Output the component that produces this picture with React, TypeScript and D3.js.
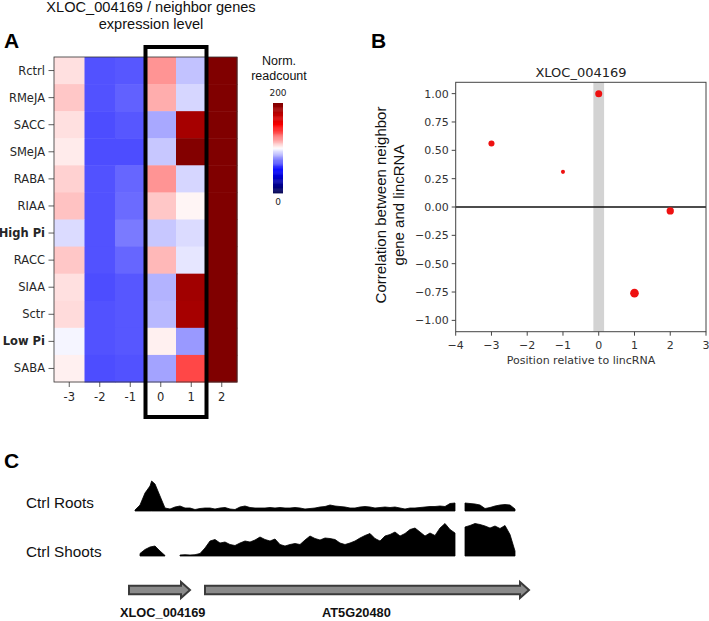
import React from "react";
import * as d3 from "d3";

// ---------- Panel A data ----------
const conditions = ["Rctrl", "RMeJA", "SACC", "SMeJA", "RABA", "RIAA", "High Pi", "RACC", "SIAA", "Sctr", "Low Pi", "SABA"];
const boldConditions = ["High Pi", "Low Pi"];
const positions = ["-3", "-2", "-1", "0", "1", "2"];
// normalized readcount per condition (rows) and neighbor position (columns)
const readcounts = [
  [106, 66, 67, 121, 88, 200],
  [111, 66, 69, 116, 92, 200],
  [106, 65, 67, 83, 185, 200],
  [104, 65, 65, 89, 199, 200],
  [109, 66, 70, 121, 92, 200],
  [112, 66, 71, 111, 102, 200],
  [93, 66, 74, 89, 93, 200],
  [111, 66, 70, 114, 95, 200],
  [106, 65, 67, 85, 187, 200],
  [107, 66, 67, 86, 185, 200],
  [98, 66, 67, 103, 80, 200],
  [103, 65, 66, 82, 136, 200],
];
const colorbarTicks = [0, 200];
const highlightPositions = ["0", "1"];

// ---------- Panel B data ----------
const neighborPos = [-3, -1, 0, 1, 2];
const correlation = [0.56, 0.31, 1.0, -0.76, -0.035];
const pointMagnitude = [9, 4, 12, 18, 13];
const xTicksB = [-4, -3, -2, -1, 0, 1, 2, 3];
const yTicksB = [1.0, 0.75, 0.5, 0.25, 0, -0.25, -0.5, -0.75, -1.0];

// ---------- Panel C data ----------
const rootsCoverage = [
  1, 6, 18, 25, 27, 15, 3, 2, 4, 5, 3, 3, 1.5, 2.5, 3, 3, 2, 3, 3.5, 2,
  1.5, 4, 5, 3.5, 3, 3, 3, 3.5, 3, 3.5, 3, 3, 3.5, 3, 2, 2.5, 3, 4, 4.5, 6,
  5, 4.5, 4, 3, 3, 4, 4.5, 4, 3, 3.5, 4, 3.5, 4, 3, 2, 3, 3, 3.5, 4, 4.5,
  4.5, 5, 4.5, 7.5, 8, 0, 8, 7.5, 7, 6, 2.5, 3.5, 5, 6, 6.5, 6, 2, 0,
];
const rootsPeak = 30;
const rootsPeakBin = 3.33;
const shootsCoverage = [
  0, 2.5, 6.5, 9, 10, 5, 0.5, 0, 0, 1, 1.3, 1, 1.3, 2.5, 8, 15, 16.5, 13, 14, 11.5,
  10.5, 13, 15, 14, 16, 19, 16.5, 15, 17, 11.5, 10, 11.5, 12.5, 11.5, 16, 20, 17.5, 16, 18, 17.5,
  16.5, 13, 11.5, 13, 15, 18, 20.5, 22.5, 17.5, 15, 20, 21.5, 24, 20, 22.5, 26.5, 28, 24, 20, 23,
  20.5, 28, 32.5, 26.5, 23, 0, 29, 30.5, 32.5, 31.5, 30, 28, 30, 27.5, 30.5, 21.5, 5, 0,
];
const tracks = [
  { label: "Ctrl Roots", values: rootsCoverage },
  { label: "Ctrl Shoots", values: shootsCoverage },
];
const genes = [
  { name: "XLOC_004169", start: -1.2, end: 11 },
  { name: "AT5G20480", start: 14, end: 78.8 },
];

const SANS = "'DejaVu Sans', sans-serif";
const ARIAL = "'Liberation Sans', Arial, sans-serif";

function seismic() {
  return d3
    .scaleLinear<string>()
    .domain([0, 50, 100, 150, 200])
    .range(["#00004c", "#0000ff", "#ffffff", "#ff0000", "#800000"])
    .clamp(true);
}

function PanelA() {
  const x = d3.scaleBand().domain(positions).range([54, 237]);
  const y = d3.scaleBand().domain(conditions).range([57, 382]);
  const color = seismic();
  const cbY = d3.scaleLinear().domain([0, 200]).range([193, 103]);
  const cbSteps = d3.range(0, 200, 2);
  const hx0 = x(highlightPositions[0])!;
  const hx1 = x(highlightPositions[highlightPositions.length - 1])! + x.bandwidth();
  return (
    <g>
      <text x={151} y={12} textAnchor="middle" fontFamily={ARIAL} fontSize={14.6} fill="#111">XLOC_004169 / neighbor genes</text>
      <text x={151} y={28.5} textAnchor="middle" fontFamily={ARIAL} fontSize={14.6} fill="#111">expression level</text>
      <text x={4} y={48} fontFamily={ARIAL} fontWeight="bold" fontSize={21} fill="#000">A</text>
      {conditions.map((c, i) =>
        positions.map((p, j) => (
          <rect key={c + p} x={x(p)!} y={y(c)!} width={x.bandwidth() + 0.5} height={y.bandwidth() + 0.5} fill={color(readcounts[i][j])} />
        ))
      )}
      <rect x={54} y={57} width={183} height={325} fill="none" stroke="#333" strokeWidth={0.8} />
      {conditions.map((c) => (
        <g key={c}>
          <line x1={48.5} x2={54} y1={y(c)! + y.bandwidth() / 2} y2={y(c)! + y.bandwidth() / 2} stroke="#333" strokeWidth={0.8} />
          <text x={45} y={y(c)! + y.bandwidth() / 2 + 4} textAnchor="end" fontFamily={SANS} fontSize={11.5} fontWeight={boldConditions.includes(c) ? "bold" : "normal"} fill="#262626">{c}</text>
        </g>
      ))}
      {positions.map((p) => (
        <g key={p}>
          <line x1={x(p)! + x.bandwidth() / 2} x2={x(p)! + x.bandwidth() / 2} y1={382} y2={387} stroke="#333" strokeWidth={0.8} />
          <text x={x(p)! + x.bandwidth() / 2} y={401} textAnchor="middle" fontFamily={SANS} fontSize={11.5} fill="#262626">{p}</text>
        </g>
      ))}
      <rect x={hx0} y={47} width={hx1 - hx0} height={370} fill="none" stroke="#000" strokeWidth={4} />
      {/* colorbar */}
      <text x={279} y={65} textAnchor="middle" fontFamily={ARIAL} fontSize={12.5} fill="#111">Norm.</text>
      <text x={279} y={80} textAnchor="middle" fontFamily={ARIAL} fontSize={12.5} fill="#111">readcount</text>
      {cbSteps.map((v) => (
        <rect key={v} x={273} y={cbY(v + 2)} width={10} height={cbY(v) - cbY(v + 2) + 0.4} fill={color(v + 1)} />
      ))}
      <text x={278} y={96} textAnchor="middle" fontFamily={SANS} fontSize={9} fill="#222">{colorbarTicks[1]}</text>
      <text x={278} y={205} textAnchor="middle" fontFamily={SANS} fontSize={9} fill="#222">{colorbarTicks[0]}</text>
    </g>
  );
}

function PanelB() {
  const x = d3.scaleLinear().domain([-4, 3]).range([455.7, 706]);
  const y = d3.scaleLinear().domain([-1.1, 1.1]).range([331.7, 82.3]);
  const r = d3.scaleSqrt().domain([0, 18]).range([0, 4.3]);
  const fmt = (v: number) => d3.format(".2f")(v).replace("-", "\u2212");
  const fmtX = (v: number) => String(v).replace("-", "\u2212");
  return (
    <g>
      <text x={371} y={48} fontFamily={ARIAL} fontWeight="bold" fontSize={21} fill="#000">B</text>
      <text x={581} y={77} textAnchor="middle" fontFamily={SANS} fontSize={13} fill="#222">XLOC_004169</text>
      <rect x={x(-0.15)} y={y(1.1)} width={x(0.15) - x(-0.15)} height={y(-1.1) - y(1.1)} fill="#d3d3d3" />
      <line x1={x(-4)} x2={x(3)} y1={y(0)} y2={y(0)} stroke="#111" strokeWidth={1.5} />
      {neighborPos.map((p, i) => (
        <circle key={p} cx={x(p)} cy={y(correlation[i])} r={r(pointMagnitude[i])} fill="#ee1111" />
      ))}
      <rect x={x(-4)} y={y(1.1)} width={x(3) - x(-4)} height={y(-1.1) - y(1.1)} fill="none" stroke="#444" strokeWidth={1} />
      {yTicksB.map((t) => (
        <g key={t}>
          <line x1={x(-4) - 4} x2={x(-4)} y1={y(t)} y2={y(t)} stroke="#444" strokeWidth={1} />
          <text x={x(-4) - 7} y={y(t) + 4} textAnchor="end" fontFamily={SANS} fontSize={11} fill="#333">{fmt(t)}</text>
        </g>
      ))}
      {xTicksB.map((t) => (
        <g key={t}>
          <line x1={x(t)} x2={x(t)} y1={y(-1.1)} y2={y(-1.1) + 4} stroke="#444" strokeWidth={1} />
          <text x={x(t)} y={349} textAnchor="middle" fontFamily={SANS} fontSize={11} fill="#333">{fmtX(t)}</text>
        </g>
      ))}
      <text x={581} y={364} textAnchor="middle" fontFamily={SANS} fontSize={11} fill="#333">Position relative to lincRNA</text>
      <g transform="translate(386,205) rotate(-90)">
        <text x={0} y={0} textAnchor="middle" fontFamily={ARIAL} fontSize={15} fill="#111">Correlation between neighbor</text>
      </g>
      <g transform="translate(404,205) rotate(-90)">
        <text x={0} y={0} textAnchor="middle" fontFamily={ARIAL} fontSize={15} fill="#111">gene and lincRNA</text>
      </g>
    </g>
  );
}

function PanelC() {
  const x = d3.scaleLinear().domain([0, 77]).range([135, 520]);
  const baselines = [511, 556];
  const labelY = [507.5, 556.5];
  const h = d3.scaleLinear().domain([0, 35]).range([0, 35]);
  const arrowY = 590;
  return (
    <g>
      <text x={4} y={468} fontFamily={ARIAL} fontWeight="bold" fontSize={21} fill="#000">C</text>
      {tracks.map((t, k) => {
        const base = baselines[k];
        const pts: [number, number][] = t.values.map((v, i) => [i, v]);
        if (k === 0) {
          // sharp summit of the roots peak
          pts.splice(4, 0, [rootsPeakBin, rootsPeak]);
          pts.sort((a, b) => a[0] - b[0]);
        }
        const area = d3
          .area<[number, number]>()
          .defined((d) => d[1] > 0)
          .x((d) => x(d[0]))
          .y0(base)
          .y1((d) => base - h(d[1]));
        return (
          <g key={t.label}>
            <text x={26} y={labelY[k]} fontFamily={ARIAL} fontSize={15.3} fill="#111">{t.label}</text>
            <path d={area(pts) || ""} fill="#000" stroke="#000" strokeWidth={0.8} />
          </g>
        );
      })}
      {genes.map((g) => {
        const x0 = x(g.start);
        const x1 = x(g.end);
        const head = 9;
        const bh = 4.3;
        const hh = 8;
        const d = `M${x0},${arrowY - bh} L${x1 - head},${arrowY - bh} L${x1 - head},${arrowY - hh} L${x1},${arrowY} L${x1 - head},${arrowY + hh} L${x1 - head},${arrowY + bh} L${x0},${arrowY + bh} Z`;
        return <path key={g.name} d={d} fill="#8a8a8a" stroke="#3a3a3a" strokeWidth={2} strokeLinejoin="miter" />;
      })}
      <text x={120} y={617} fontFamily={ARIAL} fontWeight="bold" fontSize={12.8} fill="#111">{genes[0].name}</text>
      <text x={322} y={617} fontFamily={ARIAL} fontWeight="bold" fontSize={12.8} fill="#111">{genes[1].name}</text>
    </g>
  );
}

export default function App() {
  React.useEffect(() => {
    document.body.style.margin = "0";
  }, []);
  return (
    <svg width={709} height={621} style={{ position: "absolute", left: 0, top: 0, background: "#fff" }}>
      <rect x={0} y={0} width={709} height={621} fill="#fff" />
      <PanelA />
      <PanelB />
      <PanelC />
    </svg>
  );
}
